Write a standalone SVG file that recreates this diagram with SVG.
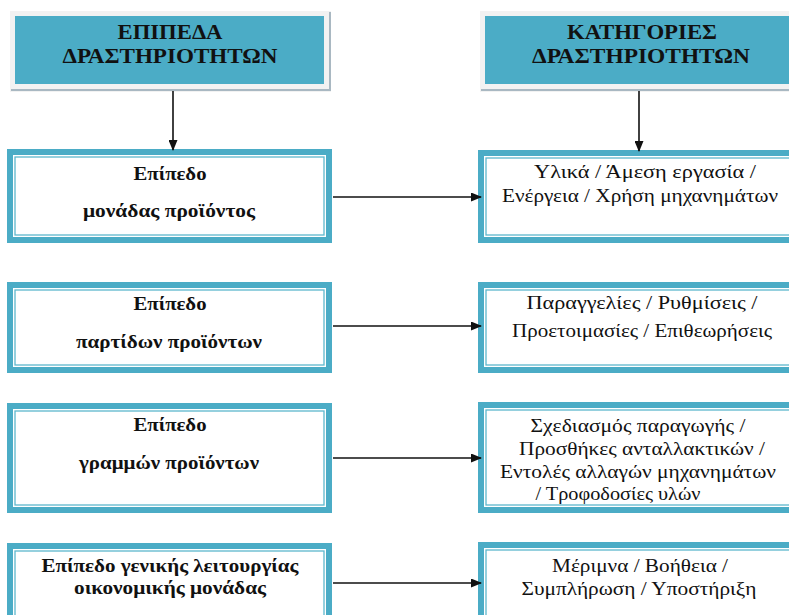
<svg xmlns="http://www.w3.org/2000/svg" width="789" height="615" viewBox="0 0 789 615">
  <style>
    .hdr-frame { fill: #f2f2f2; }
    .hdr-shadow { fill: none; stroke: #a9b8c2; stroke-width: 2; }
    .hdr-fill { fill: #4bacc6; }
    .hdr-text { font-family: "Liberation Serif", "Times New Roman", serif; font-weight: bold; font-size: 20px; fill: #111; text-anchor: middle; }
    .box-outer { fill: #ffffff; stroke: #4bacc6; stroke-width: 6; }
    .box-inner { fill: none; stroke: #5db7cd; stroke-width: 1.3; }
    .lvl { font-family: "Liberation Serif", "Times New Roman", serif; font-weight: bold; font-size: 18px; fill: #111; text-anchor: middle; }
    .cat { font-family: "Liberation Serif", "Times New Roman", serif; font-size: 19.5px; fill: #111; text-anchor: middle; }
    .conn { stroke: #111; stroke-width: 1.6; fill: none; marker-end: url(#arrow); }
  </style>
  <defs>
    <marker id="arrow" markerUnits="userSpaceOnUse" markerWidth="11" markerHeight="9" refX="10" refY="4.5" orient="auto">
      <path d="M0,0 L11,4.5 L0,9 Z" fill="#111"/>
    </marker>
  </defs>

  <rect width="789" height="615" fill="#ffffff"/>

  <!-- column headers -->
  <g id="header-levels">
    <rect class="hdr-frame" x="10" y="11" width="321" height="81"/>
    <polyline class="hdr-shadow" points="330,12 330,90 11,90"/>
    <rect class="hdr-fill" x="15" y="16" width="309" height="68"/>
    <text class="hdr-text" x="170" y="39" textLength="105" lengthAdjust="spacingAndGlyphs">ΕΠΙΠΕΔΑ</text>
    <text class="hdr-text" x="170" y="63" textLength="215" lengthAdjust="spacingAndGlyphs">ΔΡΑΣΤΗΡΙΟΤΗΤΩΝ</text>
  </g>
  <g id="header-categories">
    <rect class="hdr-frame" x="480" y="11" width="320" height="81"/>
    <line class="hdr-shadow" x1="481" y1="90" x2="800" y2="90"/>
    <rect class="hdr-fill" x="485" y="16" width="320" height="68"/>
    <text class="hdr-text" x="642" y="39" textLength="150" lengthAdjust="spacingAndGlyphs">ΚΑΤΗΓΟΡΙΕΣ</text>
    <text class="hdr-text" x="641" y="63" textLength="218" lengthAdjust="spacingAndGlyphs">ΔΡΑΣΤΗΡΙΟΤΗΤΩΝ</text>
  </g>

  <!-- activity levels (left column) -->
  <g id="level-unit">
    <rect class="box-outer" x="10" y="152" width="319" height="88"/>
    <rect class="box-inner" x="15" y="157" width="309" height="78"/>
    <text class="lvl" x="170" y="180" textLength="73" lengthAdjust="spacingAndGlyphs">Επίπεδο</text>
    <text class="lvl" x="169" y="217" textLength="172" lengthAdjust="spacingAndGlyphs">μονάδας προϊόντος</text>
  </g>
  <g id="level-batch">
    <rect class="box-outer" x="10" y="285" width="319" height="85"/>
    <rect class="box-inner" x="15" y="290" width="309" height="75"/>
    <text class="lvl" x="170" y="310" textLength="73" lengthAdjust="spacingAndGlyphs">Επίπεδο</text>
    <text class="lvl" x="169" y="348" textLength="186" lengthAdjust="spacingAndGlyphs">παρτίδων προϊόντων</text>
  </g>
  <g id="level-line">
    <rect class="box-outer" x="10" y="406" width="319" height="104"/>
    <rect class="box-inner" x="15" y="411" width="309" height="94"/>
    <text class="lvl" x="170" y="431" textLength="73" lengthAdjust="spacingAndGlyphs">Επίπεδο</text>
    <text class="lvl" x="169" y="469" textLength="180" lengthAdjust="spacingAndGlyphs">γραμμών προϊόντων</text>
  </g>
  <g id="level-facility">
    <rect class="box-outer" x="10" y="546" width="319" height="90"/>
    <rect class="box-inner" x="15" y="551" width="309" height="80"/>
    <text class="lvl" x="170" y="572" textLength="257" lengthAdjust="spacingAndGlyphs">Επίπεδο γενικής λειτουργίας</text>
    <text class="lvl" x="170" y="594" textLength="192" lengthAdjust="spacingAndGlyphs">οικονομικής μονάδας</text>
  </g>

  <!-- activity categories (right column) -->
  <g id="cat-unit">
    <rect class="box-outer" x="481" y="153" width="330" height="87"/>
    <rect class="box-inner" x="486" y="158" width="330" height="77"/>
    <text class="cat" x="645" y="178" textLength="222" lengthAdjust="spacingAndGlyphs">Υλικά / Άμεση εργασία /</text>
    <text class="cat" x="640" y="202" textLength="276" lengthAdjust="spacingAndGlyphs">Ενέργεια / Χρήση μηχανημάτων</text>
  </g>
  <g id="cat-batch">
    <rect class="box-outer" x="481" y="285" width="330" height="85"/>
    <rect class="box-inner" x="486" y="290" width="330" height="75"/>
    <text class="cat" x="642" y="309" textLength="231" lengthAdjust="spacingAndGlyphs">Παραγγελίες / Ρυθμίσεις /</text>
    <text class="cat" x="642" y="337" textLength="260" lengthAdjust="spacingAndGlyphs">Προετοιμασίες / Επιθεωρήσεις</text>
  </g>
  <g id="cat-line">
    <rect class="box-outer" x="481" y="405" width="330" height="105"/>
    <rect class="box-inner" x="486" y="410" width="330" height="95"/>
    <text class="cat" x="638" y="432" textLength="215" lengthAdjust="spacingAndGlyphs">Σχεδιασμός παραγωγής /</text>
    <text class="cat" x="642" y="455" textLength="246" lengthAdjust="spacingAndGlyphs">Προσθήκες ανταλλακτικών /</text>
    <text class="cat" x="638" y="478" textLength="276" lengthAdjust="spacingAndGlyphs">Εντολές αλλαγών μηχανημάτων</text>
    <text class="cat" x="618" y="500" textLength="165" lengthAdjust="spacingAndGlyphs">/ Τροφοδοσίες υλών</text>
  </g>
  <g id="cat-facility">
    <rect class="box-outer" x="481" y="545" width="330" height="90"/>
    <rect class="box-inner" x="486" y="550" width="330" height="80"/>
    <text class="cat" x="640" y="572" textLength="176" lengthAdjust="spacingAndGlyphs">Μέριμνα / Βοήθεια /</text>
    <text class="cat" x="639" y="595" textLength="235" lengthAdjust="spacingAndGlyphs">Συμπλήρωση / Υποστήριξη</text>
  </g>

  <!-- connectors -->
  <g id="connectors">
    <line class="conn" x1="173" y1="91" x2="173" y2="150"/>
    <line class="conn" x1="639" y1="91" x2="639" y2="151"/>
    <line class="conn" x1="333" y1="197" x2="481" y2="197"/>
    <line class="conn" x1="333" y1="326" x2="481" y2="326"/>
    <line class="conn" x1="333" y1="458" x2="481" y2="458"/>
    <line class="conn" x1="333" y1="583" x2="481" y2="583"/>
  </g>
</svg>
